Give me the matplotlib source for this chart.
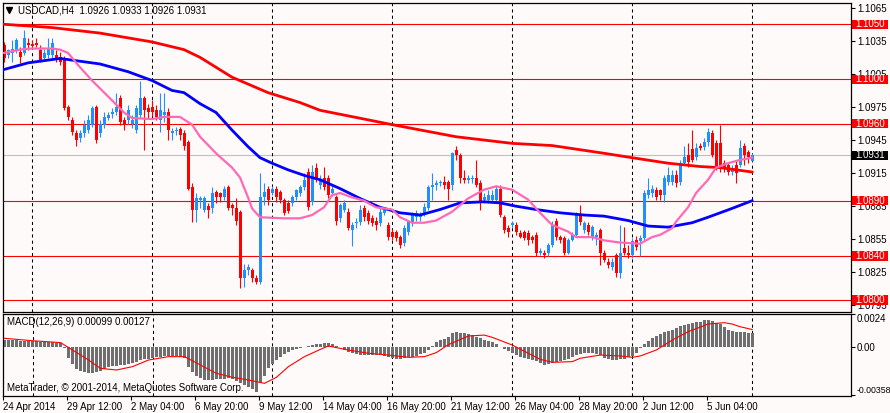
import numpy as np
import matplotlib
matplotlib.use("Agg")
import matplotlib.pyplot as plt
from matplotlib.patches import Rectangle

plt.rcParams['font.family'] = ['Liberation Sans', 'DejaVu Sans']

# ── USDCAD H4 candles (bar 0 = 24 Apr 2014) ──────────────────────────────────
opens = [
    1.1031, 1.1022, 1.1024, 1.1027, 1.1025, 1.1024, 1.1033, 1.1032, 1.1033, 1.1027,
    1.1019, 1.1022, 1.1022, 1.1022, 1.1020, 1.1019, 1.0975, 1.0963, 1.0951, 1.0947,
    1.0951, 1.0954, 1.0959, 1.0975, 1.0951, 1.0959, 1.0965, 1.0969, 1.0970, 1.0983,
    1.0963, 1.0963, 1.0960, 1.0954, 1.0968, 1.0983, 1.0974, 1.0975, 1.0972, 1.0963,
    1.0968, 1.0970, 1.0951, 1.0953, 1.0955, 1.0951, 1.0943, 1.0902, 1.0882, 1.0891,
    1.0882, 1.0885, 1.0883, 1.0898, 1.0897, 1.0893, 1.0902, 1.0886, 1.0883, 1.0880,
    1.0820, 1.0827, 1.0827, 1.0820, 1.0816, 1.0893, 1.0901, 1.0897, 1.0901, 1.0898,
    1.0891, 1.0888, 1.0888, 1.0893, 1.0897, 1.0902, 1.0916, 1.0889, 1.0920, 1.0904,
    1.0911, 1.0911, 1.0897, 1.0893, 1.0874, 1.0882, 1.0880, 1.0863, 1.0870, 1.0871,
    1.0883, 1.0879, 1.0874, 1.0872, 1.0870, 1.0879, 1.0868, 1.0862, 1.0862, 1.0857,
    1.0852, 1.0862, 1.0870, 1.0875, 1.0875, 1.0879, 1.0883, 1.0902, 1.0904, 1.0906,
    1.0907, 1.0907, 1.0904, 1.0936, 1.0931, 1.0911, 1.0909, 1.0910, 1.0911, 1.0906,
    1.0891, 1.0891, 1.0891, 1.0891, 1.0901, 1.0875, 1.0865, 1.0868, 1.0868, 1.0861,
    1.0862, 1.0861, 1.0857, 1.0859, 1.0843, 1.0843, 1.0843, 1.0850, 1.0872, 1.0857,
    1.0856, 1.0843, 1.0854, 1.0859, 1.0877, 1.0863, 1.0868, 1.0857, 1.0857, 1.0863,
    1.0843, 1.0834, 1.0830, 1.0841, 1.0824, 1.0847, 1.0843, 1.0841, 1.0854, 1.0853,
    1.0856, 1.0895, 1.0897, 1.0900, 1.0900, 1.0895, 1.0907, 1.0907, 1.0913, 1.0907,
    1.0924, 1.0931, 1.0937, 1.0930, 1.0940, 1.0939, 1.0943, 1.0951, 1.0942, 1.0942,
    1.0924, 1.0922, 1.0916, 1.0922, 1.0922, 1.0940, 1.0934, 1.0926]
highs = [
    1.1034, 1.1028, 1.1036, 1.1038, 1.1029, 1.1045, 1.1038, 1.1036, 1.1038, 1.1031,
    1.1028, 1.1038, 1.1038, 1.1027, 1.1025, 1.1021, 1.0977, 1.0966, 1.0954, 1.0954,
    1.0963, 1.0968, 1.0976, 1.0977, 1.0963, 1.0970, 1.0970, 1.0974, 1.0988, 1.0986,
    1.0966, 1.0977, 1.0968, 1.0977, 1.0999, 1.0985, 1.0978, 1.0981, 1.0977, 1.0988,
    1.0988, 1.0974, 1.0956, 1.0957, 1.0957, 1.0954, 1.0945, 1.0906, 1.0897, 1.0894,
    1.0894, 1.0888, 1.0902, 1.0900, 1.0898, 1.0903, 1.0904, 1.0888, 1.0892, 1.0882,
    1.0833, 1.0833, 1.0829, 1.0823, 1.0915, 1.0906, 1.0903, 1.0903, 1.0903, 1.0900,
    1.0892, 1.0891, 1.0895, 1.0901, 1.0904, 1.0915, 1.0920, 1.0922, 1.0924, 1.0913,
    1.0921, 1.0913, 1.0904, 1.0895, 1.0888, 1.0891, 1.0883, 1.0871, 1.0874, 1.0886,
    1.0886, 1.0882, 1.0877, 1.0875, 1.0883, 1.0884, 1.0871, 1.0864, 1.0863, 1.0859,
    1.0868, 1.0872, 1.0880, 1.0882, 1.0880, 1.0888, 1.0904, 1.0915, 1.0909, 1.0909,
    1.0912, 1.0909, 1.0934, 1.0940, 1.0933, 1.0918, 1.0913, 1.0913, 1.0927, 1.0909,
    1.0897, 1.0900, 1.0900, 1.0904, 1.0904, 1.0877, 1.0868, 1.0872, 1.0871, 1.0863,
    1.0863, 1.0863, 1.0859, 1.0862, 1.0847, 1.0845, 1.0852, 1.0872, 1.0874, 1.0859,
    1.0858, 1.0856, 1.0862, 1.0880, 1.0886, 1.0872, 1.0871, 1.0868, 1.0862, 1.0865,
    1.0845, 1.0838, 1.0838, 1.0843, 1.0868, 1.0866, 1.0850, 1.0856, 1.0858, 1.0859,
    1.0900, 1.0911, 1.0904, 1.0902, 1.0901, 1.0913, 1.0921, 1.0918, 1.0918, 1.0927,
    1.0940, 1.0942, 1.0954, 1.0942, 1.0942, 1.0947, 1.0956, 1.0954, 1.0945, 1.0959,
    1.0927, 1.0925, 1.0922, 1.0927, 1.0945, 1.0942, 1.0936, 1.0933]
lows = [
    1.1016, 1.1019, 1.1016, 1.1024, 1.1015, 1.1022, 1.1027, 1.1028, 1.1029, 1.1016,
    1.1018, 1.1019, 1.1019, 1.1016, 1.1013, 1.0972, 1.0963, 1.0950, 1.0940, 1.0943,
    1.0948, 1.0951, 1.0957, 1.0942, 1.0948, 1.0956, 1.0963, 1.0965, 1.0968, 1.0959,
    1.0954, 1.0960, 1.0956, 1.0951, 1.0965, 1.0936, 1.0965, 1.0967, 1.0963, 1.0952,
    1.0961, 1.0945, 1.0945, 1.0950, 1.0945, 1.0936, 1.0900, 1.0871, 1.0871, 1.0883,
    1.0880, 1.0874, 1.0879, 1.0888, 1.0889, 1.0891, 1.0882, 1.0877, 1.0868, 1.0811,
    1.0812, 1.0823, 1.0816, 1.0814, 1.0814, 1.0886, 1.0886, 1.0895, 1.0889, 1.0888,
    1.0877, 1.0879, 1.0885, 1.0891, 1.0894, 1.0900, 1.0882, 1.0886, 1.0907, 1.0901,
    1.0900, 1.0892, 1.0894, 1.0868, 1.0871, 1.0880, 1.0863, 1.0849, 1.0865, 1.0868,
    1.0872, 1.0869, 1.0867, 1.0863, 1.0867, 1.0877, 1.0854, 1.0854, 1.0853, 1.0847,
    1.0849, 1.0859, 1.0867, 1.0872, 1.0872, 1.0876, 1.0882, 1.0891, 1.0900, 1.0903,
    1.0901, 1.0891, 1.0900, 1.0927, 1.0906, 1.0906, 1.0906, 1.0906, 1.0902, 1.0882,
    1.0888, 1.0888, 1.0889, 1.0889, 1.0875, 1.0861, 1.0857, 1.0865, 1.0859, 1.0856,
    1.0854, 1.0850, 1.0852, 1.0840, 1.0841, 1.0838, 1.0840, 1.0848, 1.0854, 1.0852,
    1.0841, 1.0842, 1.0853, 1.0857, 1.0868, 1.0861, 1.0859, 1.0854, 1.0850, 1.0832,
    1.0834, 1.0829, 1.0827, 1.0821, 1.0820, 1.0841, 1.0838, 1.0838, 1.0845, 1.0840,
    1.0854, 1.0892, 1.0893, 1.0891, 1.0891, 1.0889, 1.0904, 1.0904, 1.0902, 1.0904,
    1.0922, 1.0921, 1.0925, 1.0927, 1.0936, 1.0936, 1.0940, 1.0930, 1.0918, 1.0916,
    1.0916, 1.0913, 1.0913, 1.0906, 1.0921, 1.0922, 1.0924, 1.0926]
closes = [
    1.1019, 1.1027, 1.1028, 1.1036, 1.1020, 1.1038, 1.1031, 1.1030, 1.1031, 1.1018,
    1.1024, 1.1028, 1.1033, 1.1019, 1.1016, 1.0974, 1.0966, 1.0952, 1.0945, 1.0951,
    1.0959, 1.0963, 1.0974, 1.0945, 1.0960, 1.0966, 1.0968, 1.0970, 1.0975, 1.0961,
    1.0960, 1.0972, 1.0963, 1.0974, 1.0983, 1.0972, 1.0970, 1.0970, 1.0966, 1.0972,
    1.0970, 1.0954, 1.0953, 1.0954, 1.0950, 1.0940, 1.0901, 1.0882, 1.0892, 1.0892,
    1.0892, 1.0882, 1.0897, 1.0893, 1.0893, 1.0901, 1.0883, 1.0883, 1.0872, 1.0820,
    1.0827, 1.0830, 1.0820, 1.0816, 1.0893, 1.0898, 1.0891, 1.0901, 1.0893, 1.0891,
    1.0879, 1.0881, 1.0893, 1.0900, 1.0902, 1.0909, 1.0884, 1.0916, 1.0911, 1.0909,
    1.0902, 1.0895, 1.0901, 1.0872, 1.0886, 1.0888, 1.0865, 1.0868, 1.0871, 1.0882,
    1.0875, 1.0872, 1.0870, 1.0868, 1.0880, 1.0882, 1.0857, 1.0857, 1.0856, 1.0850,
    1.0865, 1.0871, 1.0877, 1.0879, 1.0877, 1.0884, 1.0902, 1.0904, 1.0906, 1.0907,
    1.0904, 1.0901, 1.0933, 1.0931, 1.0911, 1.0909, 1.0911, 1.0911, 1.0904, 1.0889,
    1.0893, 1.0895, 1.0895, 1.0901, 1.0877, 1.0863, 1.0862, 1.0870, 1.0862, 1.0857,
    1.0856, 1.0854, 1.0854, 1.0843, 1.0844, 1.0841, 1.0850, 1.0868, 1.0857, 1.0854,
    1.0843, 1.0854, 1.0859, 1.0877, 1.0871, 1.0870, 1.0862, 1.0866, 1.0859, 1.0843,
    1.0836, 1.0832, 1.0834, 1.0824, 1.0843, 1.0843, 1.0841, 1.0853, 1.0848, 1.0856,
    1.0897, 1.0900, 1.0901, 1.0893, 1.0895, 1.0911, 1.0913, 1.0913, 1.0906, 1.0924,
    1.0930, 1.0925, 1.0927, 1.0938, 1.0938, 1.0943, 1.0952, 1.0931, 1.0921, 1.0920,
    1.0920, 1.0916, 1.0920, 1.0915, 1.0938, 1.0931, 1.0930, 1.0931]

# ── moving averages (read at sample bars) ────────────────────────────────────
ma_slow_bar = [0, 12, 24, 37, 45, 49, 53, 57, 66, 74, 79, 97, 113, 127, 137,
               150, 157, 166, 174, 179, 187]
ma_slow_val = [1.1050, 1.1047, 1.1042, 1.1034, 1.1027, 1.1020, 1.1011, 1.1002,
               1.0988, 1.0979, 1.0972, 1.0959, 1.0948, 1.0942, 1.0940, 1.0933,
               1.0929, 1.0924, 1.0921, 1.0920, 1.0916]

ma_mid_bar = [0, 6, 14, 24, 31, 37, 42, 45, 49, 53, 57, 61, 64, 67, 71, 75, 79,
              84, 89, 94, 99, 104, 109, 114, 120, 124, 128, 133, 139, 145, 150,
              156, 161, 166, 172, 176, 182, 187]
ma_mid_val = [1.1009, 1.1015, 1.1019, 1.1014, 1.1007, 1.0999, 1.0990, 1.0988,
              1.0978, 1.0970, 1.0954, 1.0939, 1.0929, 1.0924, 1.0918, 1.0913,
              1.0909, 1.0901, 1.0892, 1.0884, 1.0879, 1.0877, 1.0882, 1.0888,
              1.0889, 1.0888, 1.0885, 1.0882, 1.0879, 1.0877, 1.0876, 1.0872,
              1.0867, 1.0866, 1.0870, 1.0875, 1.0883, 1.0890]

ma_fast_bar = [0, 4, 7, 12, 14, 16, 19, 22, 27, 30, 32, 37, 40, 44, 47, 49, 53,
               57, 59, 61, 62, 64, 70, 74, 77, 80, 82, 84, 87, 90, 93, 97, 99,
               102, 105, 108, 112, 116, 120, 123, 127, 131, 134, 137, 141, 143,
               147, 150, 154, 159, 162, 164, 167, 168, 171, 173, 176, 178, 181,
               184, 187]
ma_fast_val = [1.1024, 1.1027, 1.1028, 1.1028, 1.1027, 1.1024, 1.1011, 1.0999,
               1.0981, 1.0970, 1.0965, 1.0964, 1.0966, 1.0966, 1.0959, 1.0948,
               1.0933, 1.0920, 1.0911, 1.0893, 1.0883, 1.0875, 1.0874, 1.0874,
               1.0877, 1.0884, 1.0895, 1.0897, 1.0893, 1.0890, 1.0884, 1.0882,
               1.0875, 1.0870, 1.0870, 1.0872, 1.0880, 1.0892, 1.0900, 1.0903,
               1.0900, 1.0891, 1.0879, 1.0868, 1.0862, 1.0857, 1.0857, 1.0854,
               1.0852, 1.0851, 1.0857, 1.0859, 1.0865, 1.0871, 1.0884, 1.0897,
               1.0909, 1.0920, 1.0924, 1.0927, 1.0929]

# ── MACD(12,26,9) ────────────────────────────────────────────────────────────
macd_hist = [
    0.00049, 0.00049, 0.00047, 0.00047, 0.00044, 0.00044, 0.00042, 0.00040,
    0.00040, 0.00037, 0.00037, 0.00035, 0.00032, 0.00030, 0.00027,
    -0.00012, -0.00086, -0.00131, -0.00165, -0.00180, -0.00188, -0.00193, -0.00193, -0.00190, -0.00178,
    -0.00163, -0.00153, -0.00146, -0.00141, -0.00136, -0.00136, -0.00131, -0.00124, -0.00111, -0.00099,
    -0.00094, -0.00089, -0.00084, -0.00079, -0.00074, -0.00069, -0.00069, -0.00069, -0.00072, -0.00074,
    -0.00086, -0.00148, -0.00185, -0.00215, -0.00235, -0.00245, -0.00247, -0.00245, -0.00242, -0.00242,
    -0.00240, -0.00232, -0.00237, -0.00252, -0.00267, -0.00282, -0.00296, -0.00311, -0.00333, -0.00267,
    -0.00217, -0.00161, -0.00128, -0.00099, -0.00074, -0.00057, -0.00040, -0.00027, -0.00017, -0.00007,
    0.00000, 0.00007, 0.00012, 0.00017, 0.00020, 0.00025, 0.00025, 0.00020, 0.00007, -0.00005,
    -0.00025, -0.00037, -0.00049, -0.00057, -0.00062, -0.00062, -0.00062, -0.00062, -0.00062, -0.00064,
    -0.00069, -0.00074, -0.00084, -0.00089, -0.00089, -0.00086, -0.00079, -0.00074, -0.00067, -0.00057,
    -0.00044, -0.00025, 0.00007, 0.00032, 0.00049, 0.00059, 0.00069, 0.00099, 0.00106, 0.00104,
    0.00099, 0.00094, 0.00084, 0.00072, 0.00062, 0.00052, 0.00042, 0.00032, 0.00020, 0.00000,
    -0.00020, -0.00035, -0.00049, -0.00059, -0.00074, -0.00084, -0.00094, -0.00101, -0.00109, -0.00124,
    -0.00136, -0.00128, -0.00119, -0.00111, -0.00106, -0.00096, -0.00089, -0.00079, -0.00064, -0.00054,
    -0.00047, -0.00044, -0.00047, -0.00052, -0.00062, -0.00082, -0.00094, -0.00099, -0.00099, -0.00094,
    -0.00089, -0.00079, -0.00069, -0.00049, -0.00012, 0.00020, 0.00044, 0.00062, 0.00077, 0.00091,
    0.00106, 0.00119, 0.00126, 0.00136, 0.00151, 0.00158, 0.00168, 0.00175, 0.00180, 0.00185,
    0.00195, 0.00198, 0.00190, 0.00178, 0.00168, 0.00143, 0.00124, 0.00114, 0.00111, 0.00106,
    0.00106, 0.00104, 0.00099]

signal_bar = [0, 7, 14, 17, 21, 24, 28, 32, 36, 41, 45, 49, 53, 57, 61, 65, 68,
              71, 75, 79, 81, 86, 91, 96, 101, 105, 108, 111, 116, 120, 122, 127,
              131, 134, 137, 142, 144, 149, 154, 157, 159, 163, 167, 171, 176,
              180, 182, 184, 187]
signal_val = [0.00062, 0.00044, 0.00030, -0.00025, -0.00099, -0.00161, -0.00173,
              -0.00148, -0.00099, -0.00074, -0.00074, -0.00136, -0.00198, -0.00227,
              -0.00247, -0.00272, -0.00227, -0.00148, -0.00074, -0.00020, 0.00005,
              -0.00025, -0.00049, -0.00062, -0.00079, -0.00074, -0.00044, 0.00015,
              0.00079, 0.00086, 0.00069, 0.00012, -0.00049, -0.00094, -0.00116,
              -0.00111, -0.00086, -0.00062, -0.00069, -0.00079, -0.00069, -0.00025,
              0.00049, 0.00111, 0.00168, 0.00178, 0.00168, 0.00148, 0.00127]

# horizontal levels and axis labels
levels = [1.1050, 1.1000, 1.0960, 1.0890, 1.0840, 1.0800]
last_price = 1.0931
price_ticks = [1.1065, 1.1035, 1.1005, 1.0975, 1.0945, 1.0915, 1.0885, 1.0855,
               1.0825, 1.0795]
grid_bars = [7, 37, 67, 97, 127, 157, 187]
date_labels = ['24 Apr 2014', '29 Apr 12:00', '2 May 04:00', '6 May 20:00',
               '9 May 12:00', '14 May 04:00', '16 May 20:00', '21 May 12:00',
               '26 May 04:00', '28 May 20:00', '2 Jun 12:00', '5 Jun 04:00']

BG = '#fffafa'
BULL = '#1e90ff'
BEAR = '#ff0000'
FS = 7

W, H = 890, 413
fig = plt.figure(figsize=(W / 100, H / 100), dpi=100, facecolor=BG)
ax = fig.add_axes([3 / W, 1 - 311.5 / H, 847.5 / W, 308.5 / H], facecolor=BG)
ax2 = fig.add_axes([3 / W, 1 - 395.5 / H, 847.5 / W, 81.2 / H], facecolor=BG)

n = len(closes)
x = np.arange(n)
o = np.array(opens)
c = np.array(closes)
col = [BULL if cc >= oo else BEAR for oo, cc in zip(o, c)]

# ── main price panel ─────────────────────────────────────────────────────────
for lv in levels:
    ax.axhline(lv, color='red', lw=0.8, zorder=1)
ax.axhline(last_price, color='#c0c0c0', lw=0.8, zorder=1)

ax.vlines(x, lows, highs, colors=col, lw=0.8, zorder=2)
body_h = np.maximum(np.abs(c - o), 0.00009)
ax.bar(x, body_h, bottom=np.minimum(o, c), width=0.75, color=col,
       linewidth=0, zorder=2)

ax.plot(ma_slow_bar, ma_slow_val, color='#ff0000', lw=2.0, zorder=3)
ax.plot(ma_mid_bar, ma_mid_val, color='#0000ff', lw=2.0, zorder=3)
ax.plot(ma_fast_bar, ma_fast_val, color='#ff69b4', lw=1.6, zorder=3)

for a in (ax, ax2):
    for gb in grid_bars:
        a.axvline(gb, color='black', lw=0.75, ls=(0, (3, 3)), zorder=1.5)
    a.set_xlim(-0.25, 211.6)
    for s in a.spines.values():
        s.set_linewidth(0.9)
        s.set_color('black')

ax.set_ylim(1.07895, 1.10693)
ax.set_xticks([])
ax.yaxis.tick_right()
ax.set_yticks(price_ticks)
ax.set_yticklabels([f'{t:.4f}' for t in price_ticks])
ax.tick_params(axis='y', direction='out', length=3, width=0.8, pad=2,
               labelsize=FS, colors='black')

# price label boxes on the right scale
ytr = ax.get_yaxis_transform()
box_w = 36 / 847.5
box_h = 9.5 * 0.0000907
for lv, fc in [(l, 'red') for l in levels] + [(last_price, 'black')]:
    ax.add_patch(Rectangle((1.0018, lv - box_h / 2), box_w, box_h,
                           transform=ytr, clip_on=False, facecolor=fc,
                           edgecolor='none', zorder=10))
    ax.text(1.0018 + box_w / 2, lv, f'{lv:.4f}', transform=ytr, ha='center',
            va='center', color='white', fontsize=FS, clip_on=False, zorder=11)

ax.plot([0.0071], [0.977], marker='v', color='black', markersize=4,
        transform=ax.transAxes, clip_on=False)
ax.text(0.0177, 0.977, 'USDCAD,H4  1.0926 1.0933 1.0926 1.0931',
        transform=ax.transAxes, ha='left', va='center', fontsize=FS)

# ── MACD panel ───────────────────────────────────────────────────────────────
ax2.bar(x, macd_hist, width=0.75, color='#6f6f6f', linewidth=0, zorder=2)
ax2.plot(signal_bar, signal_val, color='red', lw=0.8, zorder=3)
ax2.set_ylim(-0.00362, 0.0024)
ax2.yaxis.tick_right()
ax2.set_yticks([0.0024, 0.0, -0.00358])
ax2.set_yticklabels(['0.0024', '0.00', '-0.00358'])
ax2.tick_params(axis='y', direction='out', length=3, width=0.8, pad=1.5,
                labelsize=FS)
ylabs = ax2.get_yticklabels()
ylabs[0].set_va('top')
ylabs[2].set_fontsize(6.3)
ylabs[2].set_va('bottom')

ax2.set_xticks([16 * k - 0.4 for k in range(len(date_labels))])
ax2.set_xticklabels(date_labels, ha='left')
ax2.tick_params(axis='x', direction='out', length=3, width=0.8, pad=1.5,
                labelsize=FS)

ax2.text(0.0047, 0.905, 'MACD(12,26,9) 0.00099 0.00127',
         transform=ax2.transAxes, ha='left', va='center', fontsize=FS)
ax2.text(0.0047, 0.092, 'MetaTrader, © 2001-2014, MetaQuotes Software Corp.',
         transform=ax2.transAxes, ha='left', va='center', fontsize=FS)

fig.savefig('out.png', dpi=100, facecolor=BG)
